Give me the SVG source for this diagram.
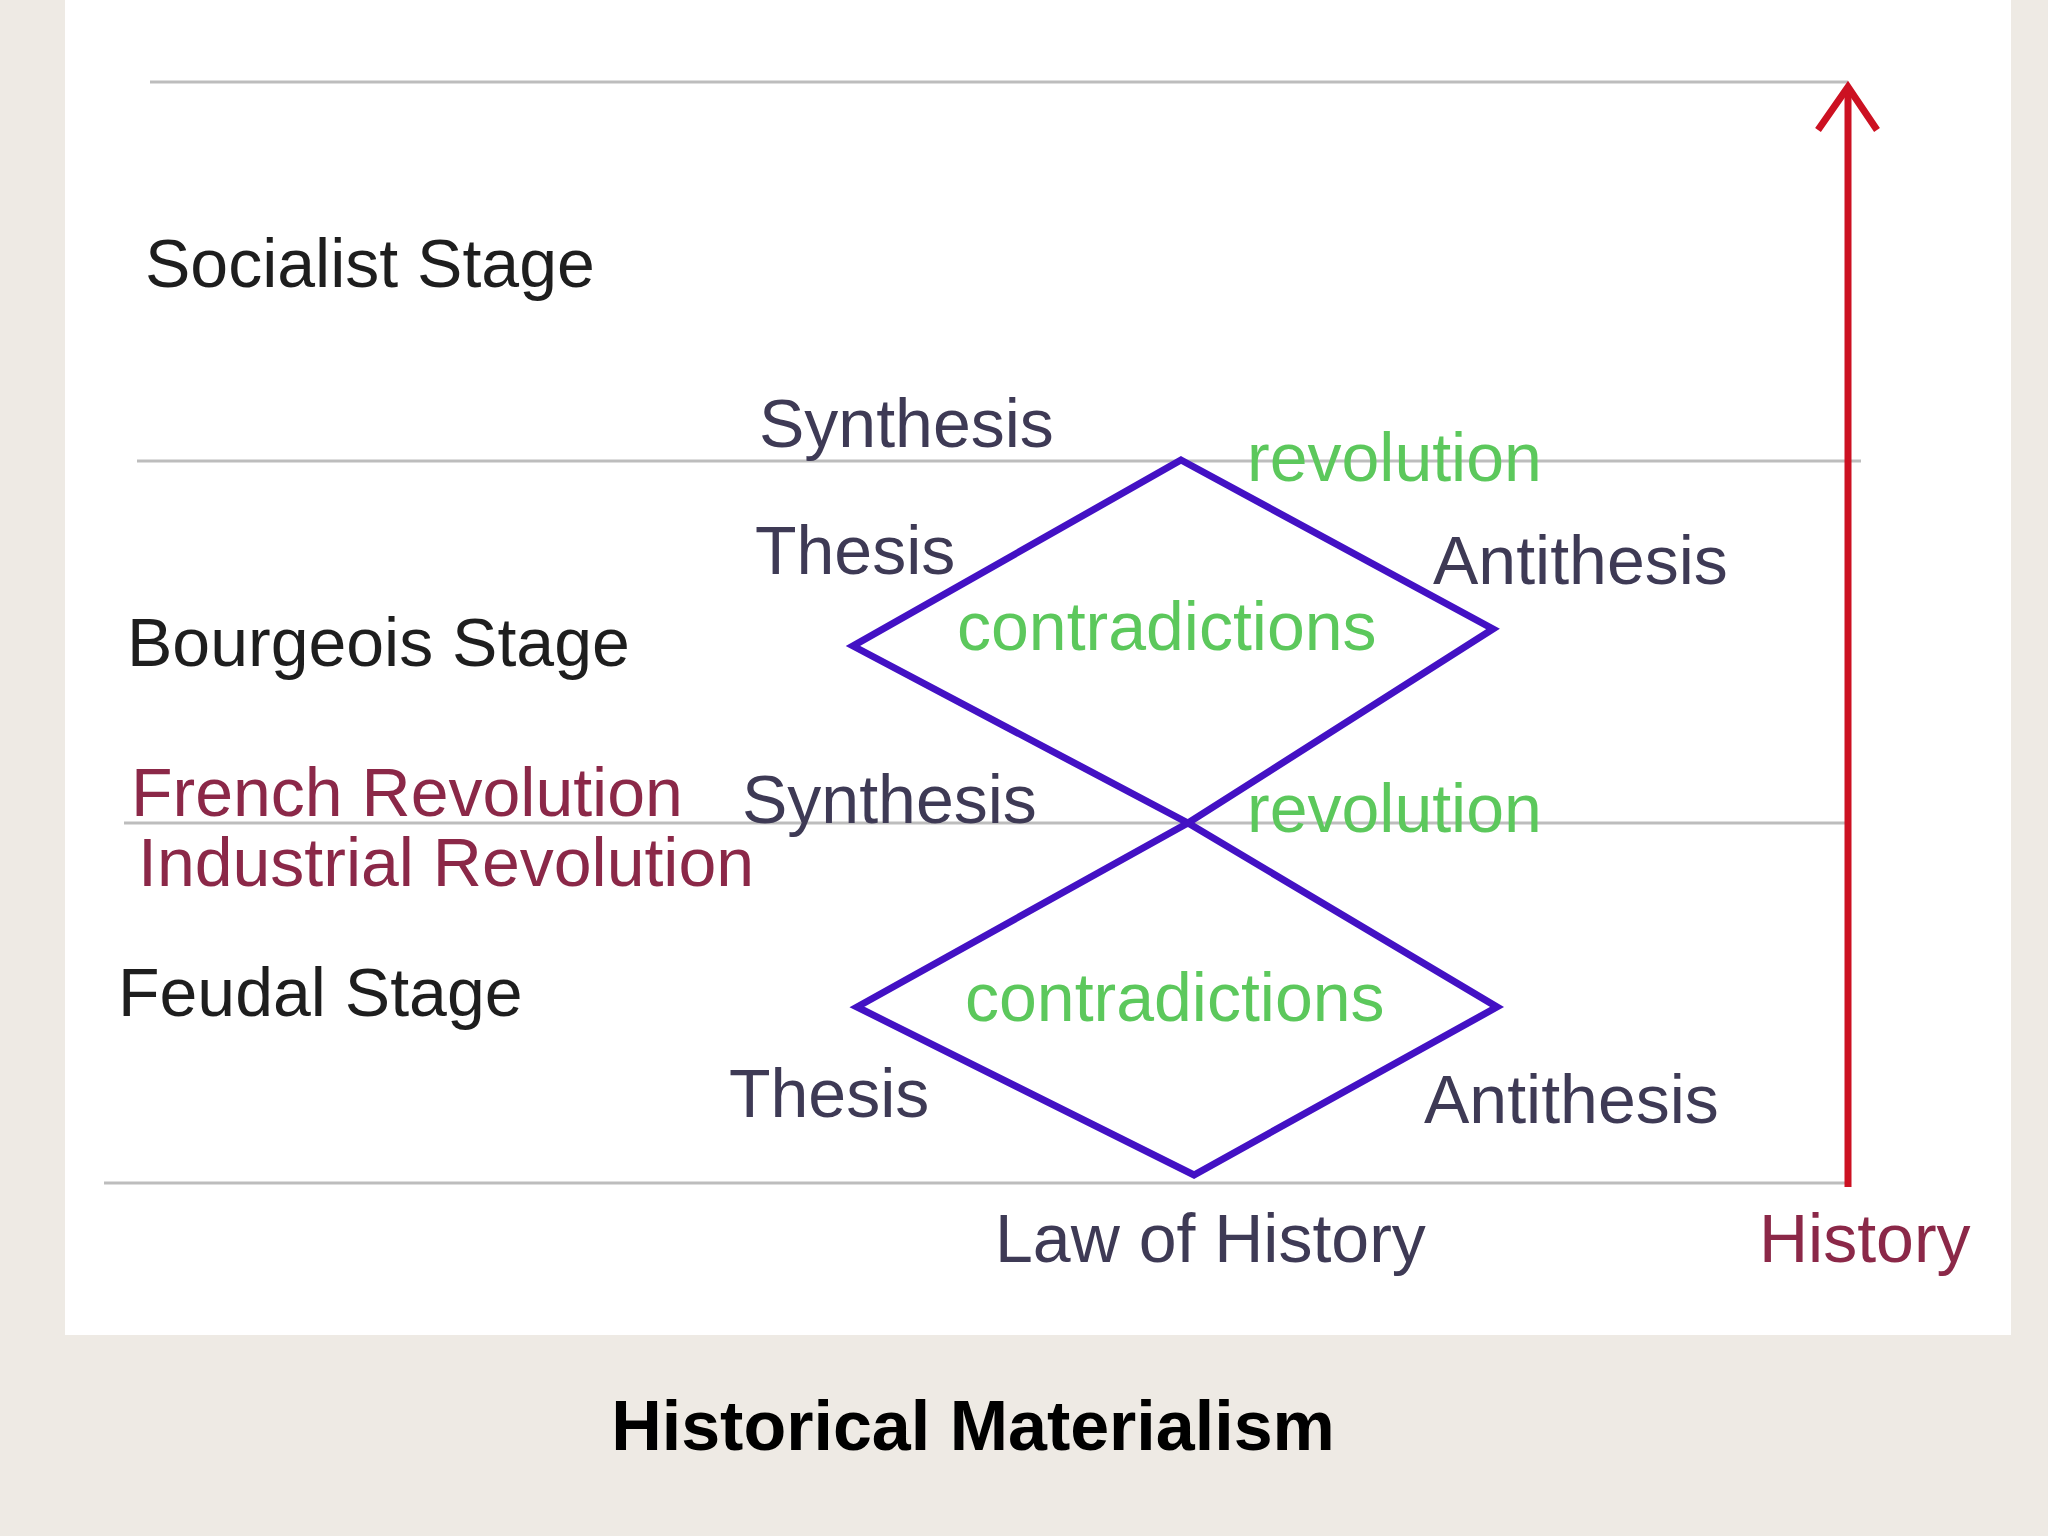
<svg xmlns="http://www.w3.org/2000/svg" width="2048" height="1536" viewBox="0 0 2048 1536">
<style>
.lbl{font-family:"Liberation Sans",Arial,sans-serif;font-size:68px}
.stage{fill:#1e1e1e}
.dia{fill:#3e3a55}
.grn{fill:#5cc85c}
.red{fill:#8b2848}
.hline{stroke:#bdbdbd;stroke-width:3;fill:none}
.diamond{stroke:#4311c4;stroke-width:7;fill:none;stroke-linejoin:miter}
.title{font-family:"Liberation Sans",Arial,sans-serif;font-size:70px;font-weight:bold;fill:#000}
</style>
<rect x="0" y="0" width="2048" height="1536" fill="#eeeae4"/>
<rect x="65" y="0" width="1946" height="1335" fill="#ffffff"/>
<g id="grid">
<line class="hline" x1="150" y1="82" x2="1848" y2="82"/>
<line class="hline" x1="137" y1="461" x2="1861" y2="461"/>
<line class="hline" x1="124" y1="823" x2="1846" y2="823"/>
<line class="hline" x1="104" y1="1183" x2="1848" y2="1183"/>
</g>
<g id="connectors">
<polygon id="diamond-upper" class="diamond" points="1181,460 1493,629 1188,823 853,646"/>
<polygon id="diamond-lower" class="diamond" points="1188,823 1497,1007 1194,1175 857,1007"/>
<g id="history-arrow" stroke="#cc1122" stroke-width="7" fill="none">
<line x1="1848" y1="1187" x2="1848" y2="90"/>
<polyline points="1818,130 1848,87 1877,130" stroke-linejoin="miter"/>
</g>
</g>
<g id="stage-socialist"><text class="lbl stage" x="145" y="287">Socialist Stage</text></g>
<g id="stage-bourgeois"><text class="lbl stage" x="127" y="666">Bourgeois Stage</text></g>
<g id="stage-feudal"><text class="lbl stage" x="118" y="1016">Feudal Stage</text></g>
<g id="french-revolution"><text class="lbl red" x="131" y="816">French Revolution</text></g>
<g id="industrial-revolution"><text class="lbl red" x="138" y="886">Industrial Revolution</text></g>
<g id="synthesis-upper"><text class="lbl dia" x="759" y="447">Synthesis</text></g>
<g id="revolution-upper"><text class="lbl grn" x="1247" y="481">revolution</text></g>
<g id="thesis-upper"><text class="lbl dia" x="755" y="574">Thesis</text></g>
<g id="antithesis-upper"><text class="lbl dia" x="1433" y="584">Antithesis</text></g>
<g id="contradictions-upper"><text class="lbl grn" x="957" y="650">contradictions</text></g>
<g id="synthesis-lower"><text class="lbl dia" x="742" y="823">Synthesis</text></g>
<g id="revolution-lower"><text class="lbl grn" x="1247" y="832">revolution</text></g>
<g id="contradictions-lower"><text class="lbl grn" x="965" y="1021">contradictions</text></g>
<g id="thesis-lower"><text class="lbl dia" x="729" y="1117">Thesis</text></g>
<g id="antithesis-lower"><text class="lbl dia" x="1424" y="1123">Antithesis</text></g>
<g id="law-of-history"><text class="lbl dia" x="995" y="1262">Law of History</text></g>
<g id="history-label"><text class="lbl red" x="1759" y="1262">History</text></g>
<g id="title"><text class="title" x="973" y="1450" text-anchor="middle">Historical Materialism</text></g>
</svg>
